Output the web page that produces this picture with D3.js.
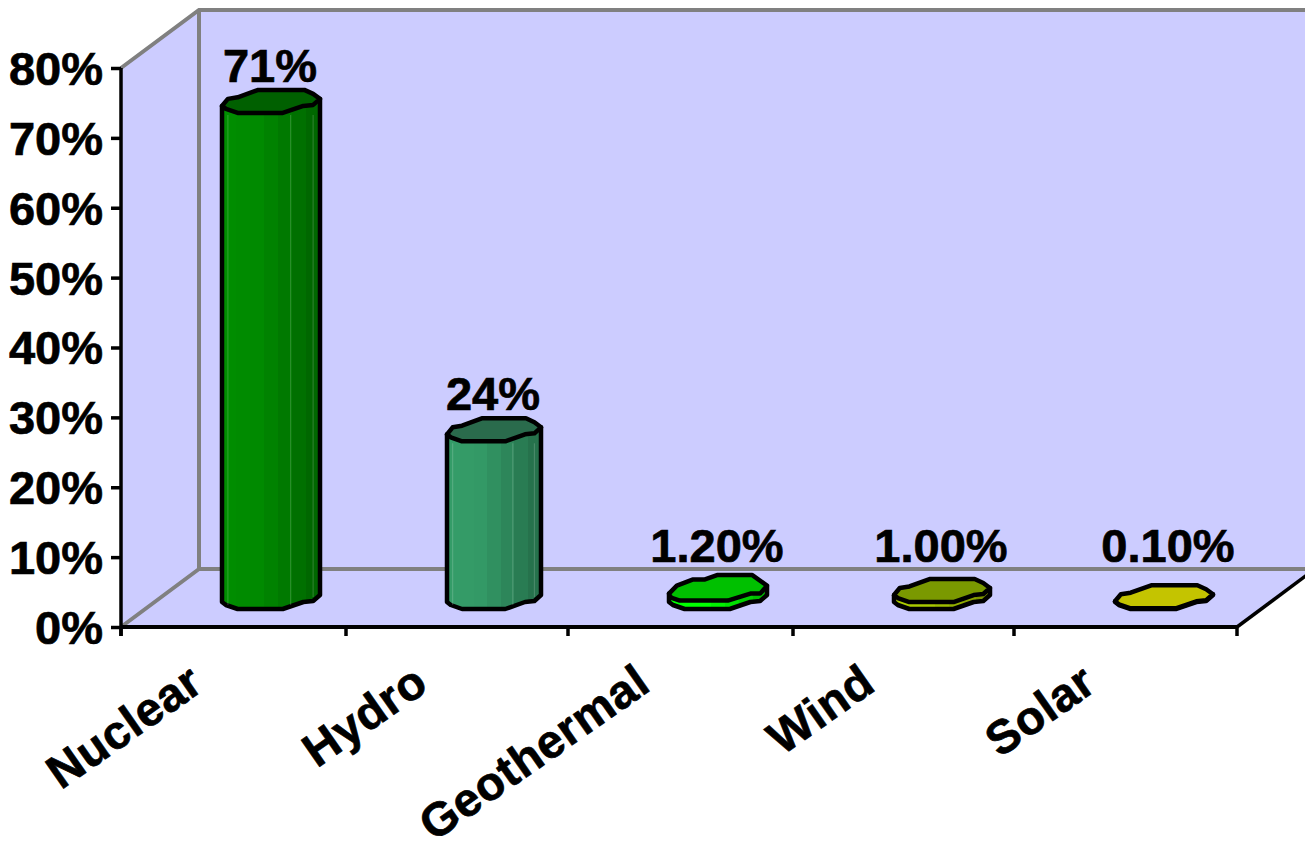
<!DOCTYPE html>
<html>
<head>
<meta charset="utf-8">
<script src="https://cdnjs.cloudflare.com/ajax/libs/d3/7.9.0/d3.min.js"></script>
<style>
html,body{margin:0;padding:0;background:#fff;overflow:hidden}
svg{display:block}
text{font-family:"Liberation Sans",Arial,sans-serif;font-weight:bold;fill:#000;stroke:#000;stroke-width:.7px}
</style>
</head>
<body>
<svg id="chart" width="1305" height="844"></svg>
<script>
const categories = ["Nuclear", "Hydro", "Geothermal", "Wind", "Solar"];
const shares = [71, 24, 1.2, 1, 0.1];
const shareLabels = ["71%", "24%", "1.20%", "1.00%", "0.10%"];
const axisTicks = [0, 10, 20, 30, 40, 50, 60, 70, 80];
const bodyColors = ["#008a00", "#339966", "#00ff00", "#a8c800", "#ffff00"];
const capColors = ["#006000", "#2a6b4c", "#00c000", "#7a9900", "#c4c400"];

const svg = d3.select("#chart");
const frame = {left: 121, right: 1237, top: 68, bottom: 627};
const depth = {dx: 78, dy: -58};
const floorLift = 18;
const wallFill = "#ccccff", wallLine = "#808080";

// Category slots start on whole-pixel tick positions
const x = d3.scaleOrdinal().domain(categories).range([121, 346, 568, 793, 1014]);
const slotWidth = (frame.right - frame.left) / categories.length;
const y = d3.scaleLinear().domain([0, 80]).range([frame.bottom, frame.top]);

// Faceted top of a bar: offsets from the front-left corner, as fractions of the bar width / px up.
const capOutline = [
  [0, -7], [.06, -14], [.16, -15.6], [.37, -23], [.84, -23], [.93, -19], [1, -14],
  [.93, -8], [.83, -7], [.62, 0], [.16, 0], [.04, -4]
];
// The geothermal top sits a little higher and rounder on its back edge.
const capOutlineRound = [
  [0, -7], [.08, -15], [.24, -21], [.36, -21], [.49, -25.5], [.85, -25.5], [1, -15],
  [.93, -7], [.83, -7], [.6, 0], [.11, 0], [.02, -3]
];
const barOffset = 101;
const barWidth = {Nuclear: 98, Hydro: 94, Geothermal: 98, Wind: 96, Solar: 98};
const labelNudge = {Solar: 5};

// Walls and floor of the box
const wall = svg.append("g");
const bx = frame.left + depth.dx, backTop = frame.top + depth.dy, backBottom = frame.bottom + depth.dy;
wall.append("rect").attr("x", bx).attr("y", backTop).attr("width", 1305 - bx).attr("height", backBottom - backTop).attr("fill", wallFill);
wall.append("polygon").attr("fill", wallFill).attr("points", [
  [frame.left, frame.top], [bx, backTop], [bx, backBottom], [frame.left, frame.bottom]].join(" "));
wall.append("polygon").attr("fill", wallFill).attr("points", [
  [frame.left, frame.bottom], [bx, backBottom], [frame.right + depth.dx, backBottom], [frame.right, frame.bottom]].join(" "));

const gridPath = `M${frame.left},${frame.top}L${bx},${backTop}H1305M${bx},${backTop}V${backBottom}H1305M${frame.left},${frame.bottom}L${bx},${backBottom}`;
wall.append("path").attr("d", gridPath).attr("fill", "none").attr("stroke", wallLine).attr("stroke-width", 4);
wall.append("line").attr("x1", frame.right).attr("y1", frame.bottom).attr("x2", frame.right + depth.dx).attr("y2", backBottom)
  .attr("stroke", "#000").attr("stroke-width", 3.5);

// Bars
const defs = svg.append("defs");
const line = d3.line().curve(d3.curveLinear);
const bars = svg.append("g");

categories.forEach((name, i) => {
  const w = barWidth[name];
  const left = x(name) + barOffset;
  const frontBase = frame.bottom - floorLift;
  const frontTop = y(shares[i]) - floorLift;
  const outline = name === "Geothermal" ? capOutlineRound : capOutline;
  const cap = outline.map(([fx, up]) => [left + fx * w, frontTop + up]);

  const grad = defs.append("linearGradient").attr("id", "body" + i);
  const shade = d3.scaleLinear().domain([0, .3, .7, 1]).range([1.02, 1, .82, .68]);
  d3.range(0, 1.001, 1 / 7).forEach((t, k, all) => {
    const c = d3.rgb(bodyColors[i]);
    const col = d3.rgb(c.r * shade(t), c.g * shade(t), c.b * shade(t)).formatHex();
    grad.append("stop").attr("offset", t).attr("stop-color", col);
    if (k < all.length - 1) grad.append("stop").attr("offset", all[k + 1]).attr("stop-color", col);
  });

  // The body follows the lower half of the cap outline, dropped to the floor.
  const lowerEdge = capOutline.slice(6).concat([capOutline[0]])
    .map(([fx, up]) => [left + fx * w, frontBase + up]);
  const body = [[left, frontTop - 7], [left + w, frontTop - 14]].concat(lowerEdge);
  const g = bars.append("g");
  g.append("path").attr("d", line(body) + "Z").attr("fill", `url(#body${i})`)
    .attr("stroke", "#000").attr("stroke-width", 4.5).attr("stroke-linejoin", "round");

  // Pale facet seams on the side of tall bars
  if (frontBase - frontTop > 40) {
    [.06, .7, .93].forEach(f => {
      g.append("line").attr("x1", left + f * w).attr("x2", left + f * w)
        .attr("y1", frontTop + 2).attr("y2", frontBase - (f > .8 ? 12 : 4))
        .attr("stroke", "#fff").attr("stroke-opacity", .16).attr("stroke-width", 1.2);
    });
  }

  g.append("path").attr("d", line(cap) + "Z").attr("fill", capColors[i])
    .attr("stroke", "#000").attr("stroke-width", 4.5).attr("stroke-linejoin", "round");

  svg.append("text").attr("x", left + w / 2 - 1 + (labelNudge[name] || 0)).attr("y", Math.min(y(shares[i]) - 49, 562))
    .attr("text-anchor", "middle").attr("font-size", 47).text(shareLabels[i]);
});

// Axes
const yAxis = d3.axisLeft(y).tickValues(axisTicks).tickSize(10).tickPadding(8).tickFormat(d => d + "%");
const gy = svg.append("g").attr("transform", `translate(${frame.left},0)`).call(yAxis);
gy.selectAll("path").attr("stroke", "#000").attr("stroke-width", 3.5).attr("d", `M${0},${frame.top}V${frame.bottom + 9}`);
gy.selectAll("line").attr("stroke", "#000").attr("stroke-width", 3.5);
gy.selectAll("text").attr("font-size", 47).attr("dy", ".35em");
gy.attr("font-family", null).attr("font-size", null);

const tickEdges = categories.map(d => x(d)).concat([frame.right]);
const gx = svg.append("g").attr("transform", `translate(0,${frame.bottom})`);
gx.append("line").attr("x1", frame.left).attr("x2", frame.right).attr("stroke", "#000").attr("stroke-width", 4);
gx.selectAll("line.tick").data(tickEdges).join("line").attr("class", "tick")
  .attr("x1", d => d).attr("x2", d => d).attr("y1", 0).attr("y2", 9)
  .attr("stroke", "#000").attr("stroke-width", 3.5);

// Slanted category names, ending under the middle of each slot
svg.append("g").selectAll("text").data(categories).join("text")
  .attr("transform", d => `translate(${x(d) + slotWidth / 2 - 27},${frame.bottom + 62}) rotate(-35)`)
  .attr("text-anchor", "end").attr("font-size", 47).attr("letter-spacing", "0.6px").text(d => d);
</script>
</body>
</html>
